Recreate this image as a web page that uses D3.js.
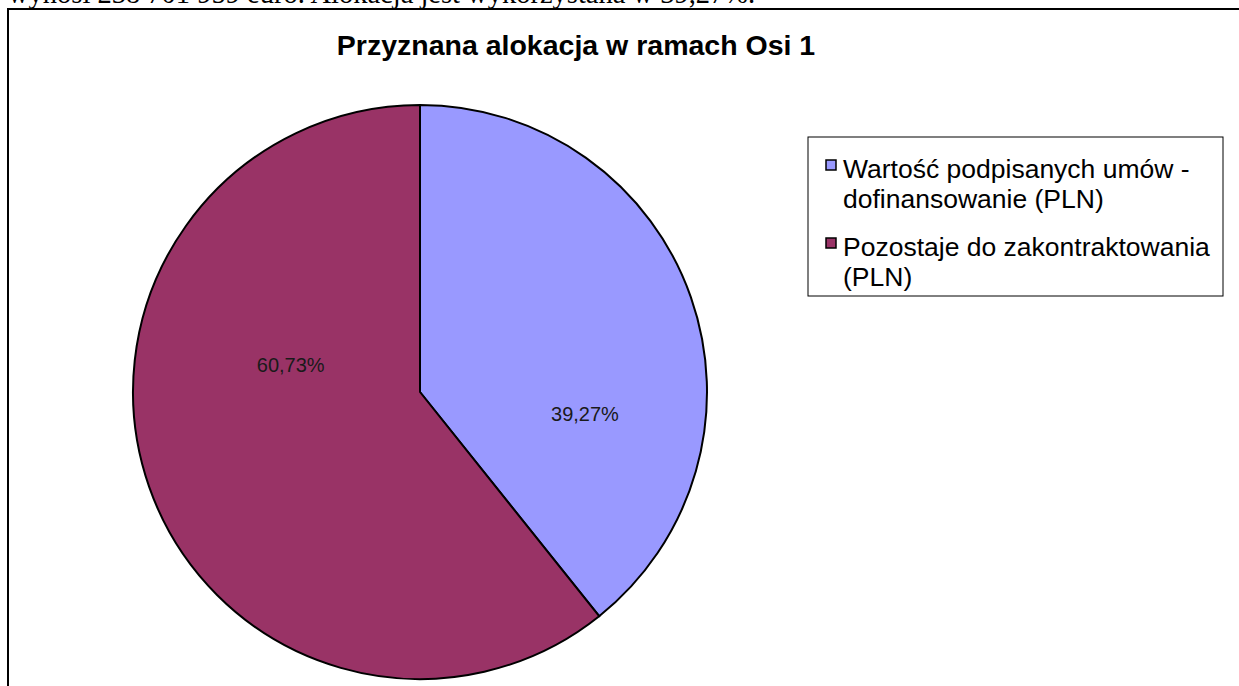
<!DOCTYPE html>
<html>
<head>
<meta charset="utf-8">
<script src="https://cdn.jsdelivr.net/npm/d3@7"></script>
<style>
	body { margin: 0; background: #fff; }
	svg { display: block; }
</style>
</head>
<body>
<script>
const categories = ['Wartość podpisanych umów - dofinansowanie (PLN)', 'Pozostaje do zakontraktowania (PLN)'];
const legendLines = [['Wartość podpisanych umów -', 'dofinansowanie (PLN)'], ['Pozostaje do zakontraktowania', '(PLN)']];
const shares = [39.27, 60.73];
const labels = ['39,27%', '60,73%'];
const colors = ['#9999ff', '#993366'];

const width = 1239, height = 686;
const svg = d3.select('body').append('svg').attr('width', width).attr('height', height);

// cut-off line of document text above the chart
svg.append('text')
	.attr('x', 8).attr('y', 3)
	.attr('font-family', 'Liberation Serif, Times New Roman, serif')
	.attr('font-size', 28.5)
	.text('wynosi 238 701 959 euro. Alokacja jest wykorzystana w 39,27%.');

// chart frame
svg.append('rect')
	.attr('x', 8).attr('y', 9)
	.attr('width', width + 10).attr('height', height + 10)
	.attr('fill', '#fff')
	.attr('stroke', '#000')
	.attr('stroke-width', 2);

svg.append('text')
	.attr('x', 576).attr('y', 55)
	.attr('text-anchor', 'middle')
	.attr('font-family', 'Liberation Sans, Arial, sans-serif')
	.attr('font-weight', 'bold')
	.attr('font-size', 28.5)
	.text('Przyznana alokacja w ramach Osi 1');

const cx = 420, cy = 392, r = 287;
const pie = d3.pie().sort(null).value(d => d)(shares);
const arc = d3.arc().innerRadius(0).outerRadius(r);

// labels sit a bit clockwise of the slice middle, as in the original
const labelShift = [27, 31];
const labelRadius = [0.58, 0.46];
const labelPos = (d, i) => {
	const a = (d.startAngle + d.endAngle) / 2 + labelShift[i] * Math.PI / 180;
	const rr = r * labelRadius[i];
	return [rr * Math.sin(a), -rr * Math.cos(a)];
};

const g = svg.append('g').attr('transform', `translate(${cx},${cy})`);
g.selectAll('path')
	.data(pie)
	.enter()
	.append('path')
	.attr('d', arc)
	.attr('fill', (d, i) => colors[i])
	.attr('stroke', '#000')
	.attr('stroke-width', 2);

g.selectAll('.lbl')
	.data(pie)
	.enter()
	.append('text')
	.attr('class', 'lbl')
	.attr('transform', (d, i) => `translate(${labelPos(d, i)})`)
	.attr('text-anchor', 'middle')
	.attr('dy', '0.35em')
	.attr('font-family', 'Liberation Sans, Arial, sans-serif')
	.attr('font-size', 20)
	.attr('fill', '#1a1a1a')
	.text((d, i) => labels[i]);

// legend
const legend = svg.append('g').attr('transform', 'translate(808,137)');
legend.append('rect')
	.attr('width', 415).attr('height', 159)
	.attr('fill', '#fff')
	.attr('stroke', '#000')
	.attr('stroke-width', 1);

const items = legend.selectAll('.item')
	.data(categories)
	.enter()
	.append('g')
	.attr('class', 'item')
	.attr('transform', (d, i) => `translate(0,${i * 78})`);

items.append('rect')
	.attr('x', 18).attr('y', 23)
	.attr('width', 10).attr('height', 10)
	.attr('fill', (d, i) => colors[i])
	.attr('stroke', '#000')
	.attr('stroke-width', 1.5);

items.append('text')
	.attr('font-family', 'Liberation Sans, Arial, sans-serif')
	.attr('font-size', 26.5)
	.attr('fill', '#000')
	.selectAll('tspan')
	.data((d, i) => legendLines[i])
	.enter()
	.append('tspan')
	.attr('x', 35)
	.attr('y', (d, j) => 41 + j * 30)
	.text(d => d);
</script>
</body>
</html>
